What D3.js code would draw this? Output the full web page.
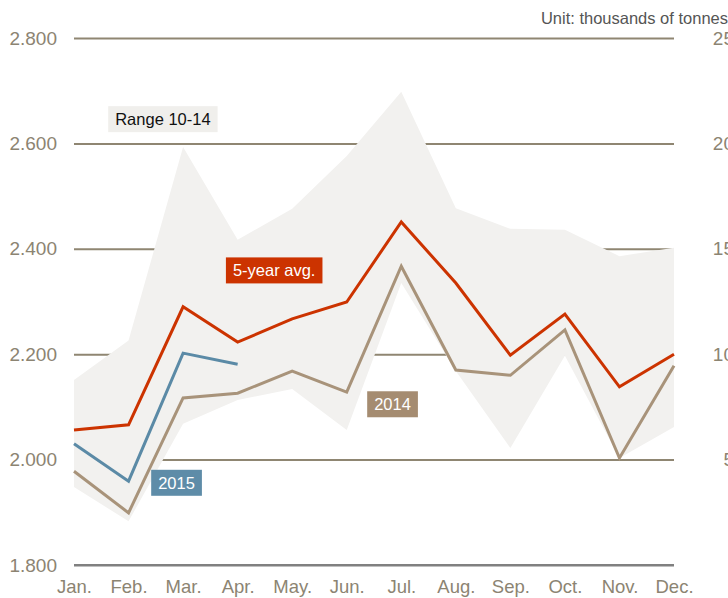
<!DOCTYPE html>
<html>
<head>
<meta charset="utf-8">
<script src="https://cdn.jsdelivr.net/npm/d3@7"></script>
<style>
  body { margin: 0; background: #fff; }
  svg { display: block; font-family: "Liberation Sans", Arial, sans-serif; }
  .axis text { fill: #8c8472; font-size: 19px; }
  .axis .domain { display: none; }
  .grid line { stroke: #8f8672; stroke-width: 2; }
</style>
</head>
<body>
<div id="graphic"></div>
<script>
// months and series, in thousands of tonnes
var months = ["Jan.", "Feb.", "Mar.", "Apr.", "May.", "Jun.", "Jul.", "Aug.", "Sep.", "Oct.", "Nov.", "Dec."];
var avg5 = [2056, 2066, 2290, 2223, 2267, 2299, 2451, 2335, 2198, 2276, 2138, 2200];
var y2015 = [2030, 1959, 2202, 2181];
var y2014 = [1978, 1899, 2117, 2126, 2168, 2128, 2367, 2170, 2160, 2246, 2003, 2178];
var rangeHigh = [2151, 2226, 2593, 2417, 2476, 2576, 2698, 2477, 2438, 2436, 2386, 2402];
var rangeLow = [1948, 1883, 2068, 2113, 2134, 2056, 2335, 2168, 2022, 2197, 2003, 2062];
var leftTicks = [1800, 2000, 2200, 2400, 2600, 2800];
var rightTicks = [5, 10, 15, 20, 25];

var margin = {top: 38, right: 54, bottom: 33, left: 74};
var width = 728 - margin.left - margin.right,
    height = 598 - margin.top - margin.bottom;

var svg = d3.select("#graphic").append("svg")
    .attr("width", 728)
    .attr("height", 598);

var canvas = svg.append("g")
    .attr("transform", "translate(" + margin.left + "," + margin.top + ")");

var x = d3.scaleLinear()
    .domain([0, months.length - 1])
    .range([0, width]);

var y = d3.scaleLinear()
    .domain([1800, 2800])
    .range([height, 0]);

var y2 = d3.scaleLinear()
    .domain([0, 25])
    .range([height, 0]);

//gridlines + left labels
var gy = canvas.append("g")
    .attr("class", "axis grid")
    .call(d3.axisLeft(y).tickValues(leftTicks).tickSize(-width).tickPadding(17)
        .tickFormat(d => d3.format(",")(d / 1000 * 1000).replace(",", ".")));
gy.selectAll(".tick").filter(d => d === 1800).select("line")
    .style("stroke", "#808080");

// right axis
var gr = canvas.append("g")
    .attr("class", "axis")
    .attr("transform", "translate(" + width + ",0)")
    .call(d3.axisRight(y2).tickValues(rightTicks).tickSize(0));
gr.selectAll("text").attr("x", 60).attr("text-anchor", "end");

// month labels
var gx = canvas.append("g")
    .attr("class", "axis")
    .attr("transform", "translate(0," + height + ")")
    .call(d3.axisBottom(x).tickValues(d3.range(months.length)).tickSize(0).tickPadding(15)
        .tickFormat(i => months[i]));
gx.selectAll("text").style("font-size", "18.5px");

// range band drawn over the gridlines
var area = d3.area()
    .x((d, i) => x(i))
    .y0((d, i) => y(rangeLow[i]))
    .y1(d => y(d));

canvas.append("path")
    .datum(rangeHigh)
    .attr("fill", "#f2f1ef")
    .attr("d", area);

// keep the baseline on top
canvas.append("line")
    .attr("x1", 0).attr("x2", width)
    .attr("y1", y(1800)).attr("y2", y(1800))
    .attr("stroke", "#808080").attr("stroke-width", 2);

var line = d3.line()
    .x((d, i) => x(i))
    .y(d => y(d));

function drawLine(vals, color) {
    canvas.append("path")
        .datum(vals)
        .attr("fill", "none")
        .attr("stroke", color)
        .attr("stroke-width", 3)
        .attr("stroke-linejoin", "miter")
        .attr("d", line);
}

drawLine(y2014, "#a8937a");
drawLine(avg5, "#cc3300");
drawLine(y2015, "#5b8aa6");

// labels: [text, month index, value, fill, text colour]
var labels = [
    ["Range 10-14", 1.63, 2646, "#f0efec", "#111"],
    ["5-year avg.", 3.67, 2359, "#cc3300", "#fff"],
    ["2015", 1.88, 1956, "#5e8ca8", "#fff"],
    ["2014", 5.84, 2105, "#a58c71", "#fff"]
];

labels.forEach(function (l) {
    var g = canvas.append("g")
        .attr("transform", "translate(" + x(l[1]) + "," + y(l[2]) + ")");
    var t = g.append("text")
        .attr("text-anchor", "middle")
        .attr("dy", "0.36em")
        .style("font-size", "16.5px")
        .attr("fill", l[4])
        .text(l[0]);
    var bb = t.node().getBBox();
    g.insert("rect", "text")
        .attr("x", bb.x - 7)
        .attr("y", -13)
        .attr("width", bb.width + 14)
        .attr("height", 26)
        .attr("fill", l[3]);
});

svg.append("text")
    .attr("x", 728)
    .attr("y", 24)
    .attr("text-anchor", "end")
    .attr("fill", "#555")
    .style("font-size", "16.5px")
    .text("Unit: thousands of tonnes");
</script>
</body>
</html>
